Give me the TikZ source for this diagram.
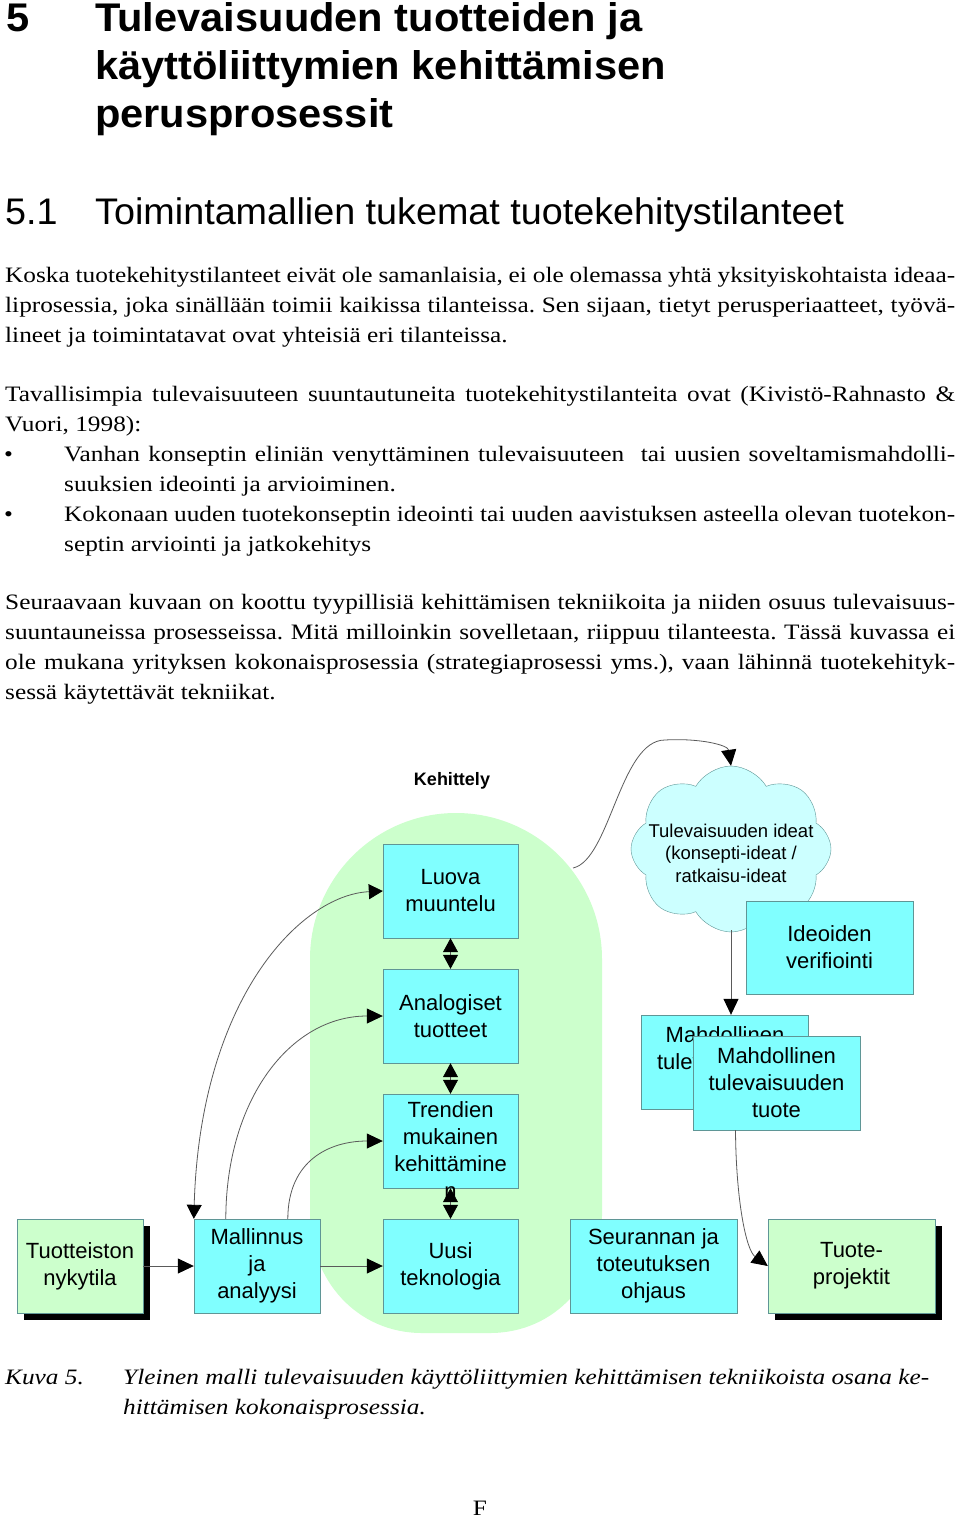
\documentclass[tikz,border=0pt]{standalone}
\usepackage{fontspec}
\setmainfont{Liberation Serif}
\newfontfamily\arialf{Liberation Sans}
\newfontfamily\headf{Liberation Sans}[FakeStretch=1.04]
\newfontfamily\subf{Liberation Sans}[FakeStretch=1.02]
\newfontfamily\bodyf{Liberation Serif}[FakeStretch=1.15]
\newfontfamily\capf{Liberation Serif}[FakeStretch=1.15]
\usetikzlibrary{arrows.meta,shapes.symbols,shadows}
\definecolor{cyanbox}{RGB}{128,255,255}
\definecolor{boxline}{RGB}{95,150,150}
\definecolor{greenbox}{RGB}{204,255,204}
\definecolor{cloudfill}{RGB}{204,255,255}
\definecolor{connc}{RGB}{90,90,90}
\newcommand\bsz{\bodyf\fontsize{22}{30}\selectfont\frenchspacing}
\newcommand\jl[2][950pt]{\makebox[#1][s]{#2}}
\tikzset{
  tl/.style={anchor=base west, inner sep=0pt, font=\bsz},
  hd/.style={anchor=base west, inner sep=0pt, font=\headf\bfseries\fontsize{40}{48}\selectfont},
  sub/.style={anchor=base west, inner sep=0pt, font=\subf\fontsize{37}{44}\selectfont},
  cbox/.style={draw=boxline, fill=cyanbox, inner sep=0pt, align=center,
    font=\arialf\fontsize{22}{27}\selectfont},
  gbox/.style={cbox, fill=greenbox, drop shadow={shadow xshift=7pt, shadow yshift=-7pt, fill=black, opacity=1}},
  conn/.style={draw=connc, line width=0.8pt},
  tip/.style={-{Triangle[length=16pt,width=15pt,color=black]}},
  dtip/.style={{Triangle[length=14pt,width=15pt,color=black]}-{Triangle[length=14pt,width=15pt,color=black]}},
}
\begin{document}
\begin{tikzpicture}[x=1pt,y=-1pt]
\path[use as bounding box, fill=white] (0,0) rectangle (960,1517);
% headings
\node[hd] (h1) at (6,32) {5};
\node[hd] (h2) at (95,32) {Tulevaisuuden tuotteiden ja};
\node[hd] (h3) at (95,80) {käyttöliittymien kehittämisen};
\node[hd] (h4) at (95,128) {perusprosessit};
\node[sub] (s1) at (5,225) {5.1};
\node[sub] (s2) at (95,225) {Toimintamallien tukemat tuotekehitystilanteet};
% paragraph 1
\node[tl] (p11) at (5,282) {\jl{Koska tuotekehitystilanteet eivät ole samanlaisia, ei ole olemassa yhtä yksityiskohtaista ideaa-}};
\node[tl] (p12) at (5,312) {\jl{liprosessia, joka sinällään toimii kaikissa tilanteissa. Sen sijaan, tietyt perusperiaatteet, työvä-}};
\node[tl] (p13) at (5,342) {lineet ja toimintatavat ovat yhteisiä eri tilanteissa.};
% paragraph 2
\node[tl] (p21) at (5,401) {\jl{Tavallisimpia tulevaisuuteen suuntautuneita tuotekehitystilanteita ovat (Kivistö-Rahnasto \&}};
\node[tl] (p22) at (5,431) {Vuori, 1998):};
\node[tl] (b1) at (4,461) {\textbullet};
\node[tl] (p23) at (64,461) {\jl[891pt]{Vanhan konseptin eliniän venyttäminen tulevaisuuteen \ tai uusien soveltamismahdolli-}};
\node[tl] (p24) at (64,491) {suuksien ideointi ja arvioiminen.};
\node[tl] (b2) at (4,521) {\textbullet};
\node[tl] (p25) at (64,521) {\jl[891pt]{Kokonaan uuden tuotekonseptin ideointi tai uuden aavistuksen asteella olevan tuotekon-}};
\node[tl] (p26) at (64,551) {septin arviointi ja jatkokehitys};
% paragraph 3
\node[tl] (p31) at (5,609) {\jl{Seuraavaan kuvaan on koottu tyypillisiä kehittämisen tekniikoita ja niiden osuus tulevaisuus-}};
\node[tl] (p32) at (5,639) {\jl{suuntauneissa prosesseissa. Mitä milloinkin sovelletaan, riippuu tilanteesta. Tässä kuvassa ei}};
\node[tl] (p33) at (5,669) {\jl{ole mukana yrityksen kokonaisprosessia (strategiaprosessi yms.), vaan lähinnä tuotekehityk-}};
\node[tl] (p34) at (5,699) {sessä käytettävät tekniikat.};

% ---------------- diagram ----------------
\node[font=\arialf\bfseries\fontsize{18}{22}\selectfont] (keh) at (452,781) {Kehittely};
% green blob
\fill[greenbox] (310,959) .. controls (310,878.4) and (375.4,813) .. (456,813)
  .. controls (536.6,813) and (602,878.4) .. (602,959)
  -- (602,1215) .. controls (602,1280) and (555,1333) .. (490,1333)
  -- (422,1333) .. controls (357,1333) and (310,1280) .. (310,1215) -- cycle;
% cloud
\node[cloud, cloud puffs=8, cloud puff arc=120, aspect=1.15, draw=boxline, fill=cloudfill,
  minimum width=200pt, minimum height=166pt, inner sep=0pt] (cloud) at (731,849) {};
\node[font=\arialf\fontsize{18.5}{22.5}\selectfont, align=center, inner sep=0pt] (cloudt) at (731,853)
  {Tulevaisuuden ideat\\(konsepti-ideat /\\ratkaisu-ideat};
% boxes
\node[cbox, minimum width=135pt, minimum height=94pt] (luova) at (450.5,891) {Luova\\muuntelu};
\node[cbox, minimum width=135pt, minimum height=94pt] (analog) at (450.5,1016) {Analogiset\\tuotteet};
\node[cbox, minimum width=135pt, minimum height=94pt] (trend) at (450.5,1141) {};
\node[cbox, draw=none, fill=none, anchor=north] (trendt) at (450.5,1101) {Trendien\\mukainen\\kehittämine\\n};
\node[cbox, minimum width=135pt, minimum height=94pt] (uusi) at (450.5,1266) {Uusi\\teknologia};
\node[cbox, minimum width=126pt, minimum height=94pt] (mall) at (257,1266) {Mallinnus\\ja\\analyysi};
\node[cbox, minimum width=167pt, minimum height=94pt] (seur) at (653.5,1266) {Seurannan ja\\toteutuksen\\ohjaus};
\node[gbox, minimum width=167pt, minimum height=94pt] (tuote) at (851.5,1266) {Tuote-\\projektit};
\node[gbox, minimum width=126pt, minimum height=94pt] (tuott) at (80,1266) {Tuotteiston\\nykytila};
\node[cbox, minimum width=167pt, minimum height=93pt] (ideo) at (829.5,947.5) {Ideoiden\\verifiointi};
\node[cbox, minimum width=167pt, minimum height=94pt] (mahd1) at (725,1062) {Mahdollinen\\tulevaisuuden\\tuote};
\node[cbox, minimum width=167pt, minimum height=94pt] (mahd2) at (776.5,1083) {Mahdollinen\\tulevaisuuden\\tuote};
% coordinates for free ends
\coordinate (blobR) at (573,868);
\coordinate (cloudB) at (731,930);
% connectors
\draw[conn, tip] (tuott.east) -- (mall.west);
\draw[conn, tip] (mall.east) -- (uusi.west);
\draw[conn, dtip] (luova.south) -- (analog.north);
\draw[conn, dtip] (analog.south) -- (trend.north);
\draw[conn, dtip] (trend.south) -- (uusi.north);
\draw[conn, dtip] (luova.west) .. controls (300,895) and (200,1000) .. (mall.north west);
\draw[conn, tip] ([xshift=32pt]mall.north west) .. controls (226,1100) and (290,1016) .. (analog.west);
\draw[conn, tip] ([xshift=94pt]mall.north west) .. controls (288,1160) and (330,1141) .. (trend.west);
\draw[conn, tip] (blobR) .. controls (610,860) and (620,740) .. (665,740)
  .. controls (700,738) and (728,745) .. (cloud.north);
\draw[conn, tip] (cloudB) -- (cloudB |- mahd1.north);
\draw[conn, tip] ([xshift=-41pt]mahd2.south) .. controls (736,1200) and (746,1250) .. (tuote.west);
% caption
\node[tl, font=\capf\itshape\fontsize{22}{30}\selectfont] (k1) at (5,1384) {Kuva 5.};
\node[tl, font=\capf\itshape\fontsize{22}{30}\selectfont] (k2) at (123,1384) {Yleinen malli tulevaisuuden käyttöliittymien kehittämisen tekniikoista osana ke-};
\node[tl, font=\capf\itshape\fontsize{22}{30}\selectfont] (k3) at (123,1414) {hittämisen kokonaisprosessia.};
\node[font=\bsz, inner sep=0pt] (f) at (480,1508) {F};
\end{tikzpicture}
\end{document}
